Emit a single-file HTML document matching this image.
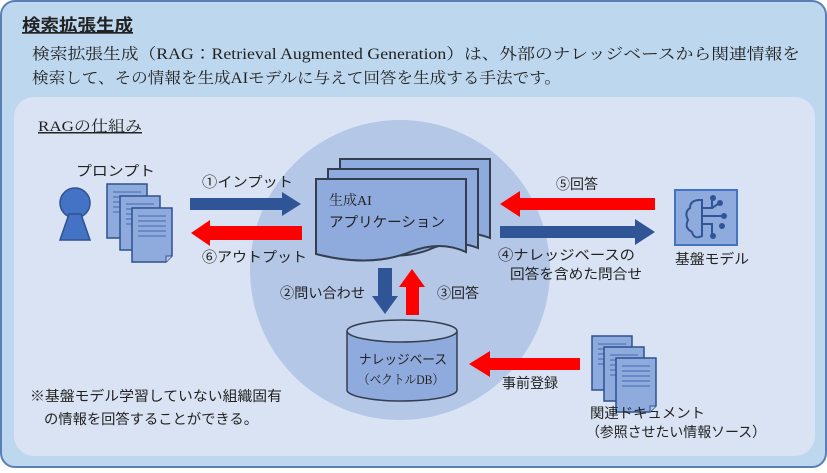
<!DOCTYPE html>
<html><head><meta charset="utf-8"><style>
body{margin:0;width:827px;height:468px;overflow:hidden;background:#fff;}
svg text{font-family:"Liberation Serif","Noto Serif CJK JP",serif;fill:#222;}
.g{font-family:"Liberation Sans","Noto Sans CJK JP",sans-serif;}
</style></head><body>
<svg width="827" height="468" viewBox="0 0 827 468" xmlns="http://www.w3.org/2000/svg">
<defs>
<g id="doc"><path d="M0 0H40V48L34 54H0Z" fill="#8faadc" stroke="#2f528f" stroke-width="1.5"/><path d="M34 54V48H40" fill="#b4c7e7" stroke="#2f528f"/><g stroke="#5b7fc0" stroke-width="1.5"><line x1="6" y1="8" x2="34" y2="8"/><line x1="6" y1="13" x2="34" y2="13"/><line x1="6" y1="18" x2="34" y2="18"/><line x1="6" y1="23" x2="34" y2="23"/><line x1="6" y1="28" x2="34" y2="28"/></g></g>
</defs>
<rect x="1" y="1" width="825" height="466" rx="14" fill="#bdd7ee" stroke="#5b7fb5" stroke-width="2"/>
<rect x="14" y="97" width="801" height="359" rx="20" fill="#dae3f3"/>
<circle cx="400" cy="270" r="150" fill="#b4c7e7"/>
<text x="22" y="31" font-size="17" font-weight="bold" class="g" text-decoration="underline" textLength="111" lengthAdjust="spacingAndGlyphs">検索拡張生成</text>
<text x="32" y="59" font-size="15.5" textLength="768" lengthAdjust="spacingAndGlyphs">検索拡張生成（RAG：Retrieval Augmented Generation）は、外部のナレッジベースから関連情報を</text>
<text x="32" y="83" font-size="15.5" textLength="529" lengthAdjust="spacingAndGlyphs">検索して、その情報を生成AIモデルに与えて回答を生成する手法です。</text>
<text x="38" y="131" font-size="15" text-decoration="underline" textLength="104" lengthAdjust="spacingAndGlyphs">RAGの仕組み</text>
<circle cx="75" cy="203" r="15" fill="#4472c4" stroke="#2f528f" stroke-width="1.5"/>
<path d="M69 214L60 240H90L81 214Z" fill="#4472c4" stroke="#2f528f" stroke-width="1.5"/>
<text x="76" y="176" font-size="14" class="g" textLength="79" lengthAdjust="spacingAndGlyphs">プロンプト</text>
<use href="#doc" x="107" y="184"/><use href="#doc" x="120" y="196"/><use href="#doc" x="132" y="208"/>
<path d="M190 198H282V192L301 204L282 216V210H190Z" fill="#2f5597"/>
<path d="M302 226H210V220L191 233L210 246V240H302Z" fill="#ff0000"/>
<text x="202" y="187" font-size="14" class="g" textLength="91" lengthAdjust="spacingAndGlyphs">①インプット</text>
<text x="202" y="262" font-size="14" class="g" textLength="105" lengthAdjust="spacingAndGlyphs">⑥アウトプット</text>
<path d="M340 159H490V238Q465 228 440 240Q410 252 340 240Z" fill="#8faadc" stroke="#333f50" stroke-width="2"/>
<path d="M328 169H478V248Q453 238 428 250Q398 262 328 250Z" fill="#8faadc" stroke="#333f50" stroke-width="2"/>
<path d="M316 179H466V252Q440 240 410 252Q370 268 316 254Z" fill="#8faadc" stroke="#333f50" stroke-width="2"/>
<text x="329" y="205" font-size="14">生成AI</text>
<text x="329" y="227" font-size="14" class="g" textLength="116" lengthAdjust="spacingAndGlyphs">アプリケーション</text>
<path d="M378 268H392V296H398L385 314L372 296H378Z" fill="#2f5597"/>
<path d="M406 315H419V287H425L412 269L399 287H406Z" fill="#ff0000"/>
<text x="280" y="298" font-size="14" class="g" textLength="85" lengthAdjust="spacingAndGlyphs">②問い合わせ</text>
<text x="437" y="298" font-size="14" class="g">③回答</text>
<path d="M347 331V390A55 11 0 0 0 457 390V331" fill="#8faadc" stroke="#333f50" stroke-width="1.5"/>
<ellipse cx="402" cy="331" rx="55" ry="11" fill="#b4c7e7" stroke="#333f50" stroke-width="1.5"/>
<text x="359" y="364" font-size="13" class="g" textLength="88" lengthAdjust="spacingAndGlyphs">ナレッジベース</text>
<text x="358" y="384" font-size="13" textLength="86" lengthAdjust="spacingAndGlyphs">（ベクトルDB）</text>
<path d="M580 358H490V351L469 364L490 377V370H580Z" fill="#ff0000"/>
<text x="502" y="388" font-size="14" class="g">事前登録</text>
<use href="#doc" x="592" y="336"/><use href="#doc" x="604" y="347"/><use href="#doc" x="616" y="358"/>
<text x="590" y="418" font-size="14" class="g" textLength="115" lengthAdjust="spacingAndGlyphs">関連ドキュメント</text>
<text x="586" y="437" font-size="14" class="g" textLength="180" lengthAdjust="spacingAndGlyphs">（参照させたい情報ソース）</text>
<path d="M655 198H520V191L500 204L520 217V210H655Z" fill="#ff0000"/>
<path d="M500 226H635V219L655 232L635 245V238H500Z" fill="#2f5597"/>
<text x="556" y="189" font-size="14" class="g">⑤回答</text>
<text x="498" y="260" font-size="14" class="g" textLength="137" lengthAdjust="spacingAndGlyphs">④ナレッジベースの</text>
<text x="510" y="279" font-size="14" class="g" textLength="132" lengthAdjust="spacingAndGlyphs">回答を含めた問合せ</text>
<rect x="675" y="190" width="62" height="55" fill="#8faadc" stroke="#4472c4" stroke-width="2"/>
<g fill="none" stroke="#2f5597" stroke-width="2">
<path d="M700 200Q690 200 690 208Q684 212 688 220Q684 228 692 232Q694 240 702 236V200Z"/>
<path d="M702 208H712V200M702 216H722M702 224H712V234M712 208L718 204"/>
</g>
<g fill="#2f5597"><circle cx="713" cy="198" r="3"/><circle cx="724" cy="216" r="3"/><circle cx="720" cy="203" r="3"/><circle cx="713" cy="236" r="3"/><circle cx="722" cy="226" r="3"/></g>
<text x="675" y="264" font-size="14" class="g" textLength="74" lengthAdjust="spacingAndGlyphs">基盤モデル</text>
<text x="30" y="401" font-size="14" class="g" textLength="252" lengthAdjust="spacingAndGlyphs">※基盤モデル学習していない組織固有</text>
<text x="44" y="424" font-size="14" class="g" textLength="214" lengthAdjust="spacingAndGlyphs">の情報を回答することができる。</text>
</svg>
</body></html>
